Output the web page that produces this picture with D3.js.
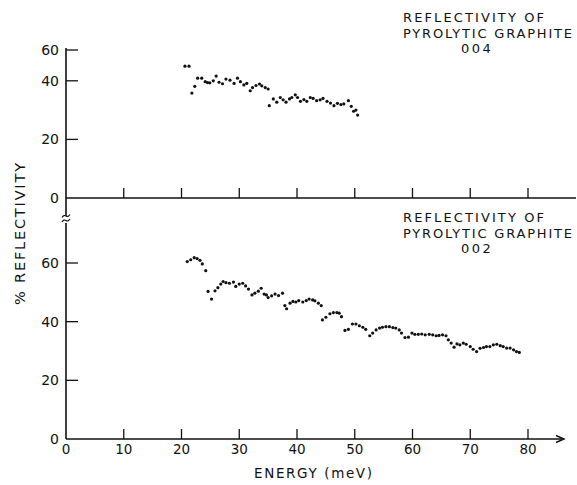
<!DOCTYPE html>
<html><head><meta charset="utf-8">
<script src="https://cdn.jsdelivr.net/npm/d3@7"></script>
<style>
body{margin:0;background:#fff;}
text{font-family:"DejaVu Sans",sans-serif;fill:#111;}
</style></head>
<body><svg id="c" width="577" height="485"></svg>
<script>
// ---- data ----
const energy004 = [20.6,21.3,21.8,22.3,22.8,23.5,24.1,24.5,24.9,25.5,26.0,26.5,27.1,27.7,28.4,29.1,29.7,30.2,30.8,31.3,31.9,32.3,32.9,33.5,33.9,34.5,35.0,35.2,35.9,36.5,37.1,37.6,38.1,38.7,39.1,39.7,40.1,40.6,41.2,41.7,42.3,42.8,43.4,44.0,44.5,45.2,45.8,46.4,47.0,47.6,48.1,48.9,49.4,49.8,50.2,50.5];
const refl004 = [45.0,45.0,35.8,38.1,40.9,40.9,39.7,39.4,39.3,40.0,41.6,39.5,39.0,40.6,40.2,39.1,40.9,39.7,38.6,39.1,36.6,37.7,38.4,38.9,38.3,37.7,37.2,31.5,33.8,32.7,34.3,33.5,32.7,33.8,34.3,35.2,34.3,33.0,33.6,33.0,34.3,34.0,33.2,33.5,34.0,33.0,32.4,31.5,32.3,31.9,32.1,33.2,31.3,29.6,30.0,28.3];
const energy002 = [21.0,21.6,22.2,22.7,23.2,23.6,24.2,24.6,25.2,25.8,26.3,26.8,27.2,27.7,28.3,29.0,29.4,30.0,30.6,31.1,31.6,32.2,32.7,33.3,33.8,34.3,34.7,35.0,35.6,36.2,36.8,37.5,37.9,38.2,38.8,39.3,39.8,40.3,41.0,41.6,42.1,42.7,43.1,43.7,44.2,44.4,45.0,45.7,46.3,46.9,47.3,47.7,48.3,48.9,49.6,50.2,50.8,51.4,51.9,52.6,53.1,53.7,54.3,54.8,55.4,56.0,56.6,57.1,57.7,58.1,58.7,59.3,59.9,60.4,61.0,61.6,62.2,62.9,63.5,64.1,64.6,65.2,65.8,66.2,66.7,67.2,67.7,68.2,68.8,69.3,70.0,70.5,71.1,71.7,72.3,72.8,73.4,74.0,74.6,75.2,75.7,76.3,76.9,77.5,78.0,78.5];
const refl002 = [60.5,61.1,61.8,61.5,60.9,59.7,57.4,50.3,47.7,50.5,51.6,52.8,53.7,53.3,53.1,53.5,52.0,52.8,53.1,52.2,51.1,49.1,49.7,50.4,51.4,49.4,49.1,48.2,48.8,49.4,48.9,49.7,45.5,44.4,46.3,46.9,46.7,47.2,46.7,47.2,47.7,47.4,47.1,46.3,45.5,40.6,41.5,42.7,43.1,43.1,42.9,41.7,37.0,37.4,39.2,39.2,38.6,38.1,37.4,35.2,36.1,37.2,37.8,38.1,38.3,38.3,38.0,37.8,37.2,36.1,34.6,34.7,36.1,35.7,35.7,35.8,35.5,35.7,35.5,35.2,35.3,35.5,35.2,33.8,32.7,31.3,32.4,32.1,32.7,32.3,31.5,30.6,29.8,30.9,31.2,31.5,31.5,32.1,32.3,31.8,31.5,31.0,31.0,30.4,29.8,29.5];
const xTicks = [0,10,20,30,40,50,60,70,80];
const yTicks = [0,20,40,60];
const title004 = ["REFLECTIVITY OF","PYROLYTIC GRAPHITE","004"];
const title002 = ["REFLECTIVITY OF","PYROLYTIC GRAPHITE","002"];
const xLabel = "ENERGY (meV)";
const yLabel = "% REFLECTIVITY";

// ---- drawing ----
const svg = d3.select("#c");
const x = d3.scaleLinear().domain([0,80]).range([66,528]);
const yTop = d3.scaleLinear().domain([0,50,60]).range([198,51.5,50]);
const yBot = d3.scaleLinear().domain([0,60]).range([439,263]);
const stroke = "#111";

// y axis lines
svg.append("line").attr("x1",66).attr("x2",66).attr("y1",48).attr("y2",216)
  .attr("stroke",stroke).attr("stroke-width",1.6);
svg.append("line").attr("x1",66).attr("x2",66).attr("y1",223).attr("y2",439)
  .attr("stroke",stroke).attr("stroke-width",1.6);
// break marks
[216,220.5].forEach(yy=>{
  svg.append("path").attr("d",`M62,${yy+1.5} q2,-3 4,-1.5 q2,1.5 4,-1.5`)
    .attr("fill","none").attr("stroke",stroke).attr("stroke-width",1.2);
});

// top x axis
svg.append("line").attr("x1",66).attr("x2",576).attr("y1",yTop(0)).attr("y2",yTop(0))
  .attr("stroke",stroke).attr("stroke-width",1.6);
// bottom x axis with arrow
svg.append("line").attr("x1",66).attr("x2",562).attr("y1",yBot(0)).attr("y2",yBot(0))
  .attr("stroke",stroke).attr("stroke-width",1.6);
svg.append("path").attr("d",`M556,${yBot(0)-3.5} L564,${yBot(0)} L556,${yBot(0)+3.5}`)
  .attr("fill","none").attr("stroke",stroke).attr("stroke-width",1.4);

// x ticks (upward) both panels
[yTop, yBot].forEach(ys=>{
  svg.selectAll(null).data(xTicks.filter(d=>d>0)).enter().append("line")
    .attr("x1",d=>x(d)).attr("x2",d=>x(d)).attr("y1",ys(0)).attr("y2",ys(0)-10)
    .attr("stroke",stroke).attr("stroke-width",1.3);
});
// x tick labels
svg.selectAll(null).data(xTicks).enter().append("text")
  .attr("x",d=>x(d)).attr("y",454).attr("text-anchor","middle")
  .attr("font-size",13.5).text(d=>d);
svg.append("text").attr("x",254).attr("y",478)
  .attr("font-size",13.5).attr("textLength",118).attr("lengthAdjust","spacing").text(xLabel);

// y ticks
[yTop, yBot].forEach(ys=>{
  svg.selectAll(null).data(yTicks.filter(d=>d>0)).enter().append("line")
    .attr("x1",66).attr("x2",78).attr("y1",d=>ys(d)).attr("y2",d=>ys(d))
    .attr("stroke",stroke).attr("stroke-width",1.3);
  svg.selectAll(null).data(yTicks).enter().append("text")
    .attr("x",59).attr("y",d=>ys(d)+5).attr("text-anchor","end")
    .attr("font-size",14).text(d=>d);
});
// y label
svg.append("text").attr("transform","translate(25,305) rotate(-90)")
  .attr("font-size",14.5).attr("textLength",142).attr("lengthAdjust","spacing").text(yLabel);

// titles
function titles(lines, y0){
  svg.append("text").attr("x",403).attr("y",y0).attr("font-size",13)
    .attr("textLength",141).attr("lengthAdjust","spacing").text(lines[0]);
  svg.append("text").attr("x",403).attr("y",y0+15.5).attr("font-size",13)
    .attr("textLength",169).attr("lengthAdjust","spacing").text(lines[1]);
  svg.append("text").attr("x",461).attr("y",y0+31).attr("font-size",13)
    .attr("letter-spacing",2.5).text(lines[2]);
}
titles(title004, 22);
titles(title002, 222);

// points
const d004 = d3.zip(energy004, refl004);
const d002 = d3.zip(energy002, refl002);
svg.selectAll(null).data(d004).enter().append("circle")
  .attr("cx",d=>x(d[0])).attr("cy",d=>yTop(d[1])).attr("r",1.6).attr("fill","#111");
svg.selectAll(null).data(d002).enter().append("circle")
  .attr("cx",d=>x(d[0])).attr("cy",d=>yBot(d[1])).attr("r",1.6).attr("fill","#111");
</script></body></html>
